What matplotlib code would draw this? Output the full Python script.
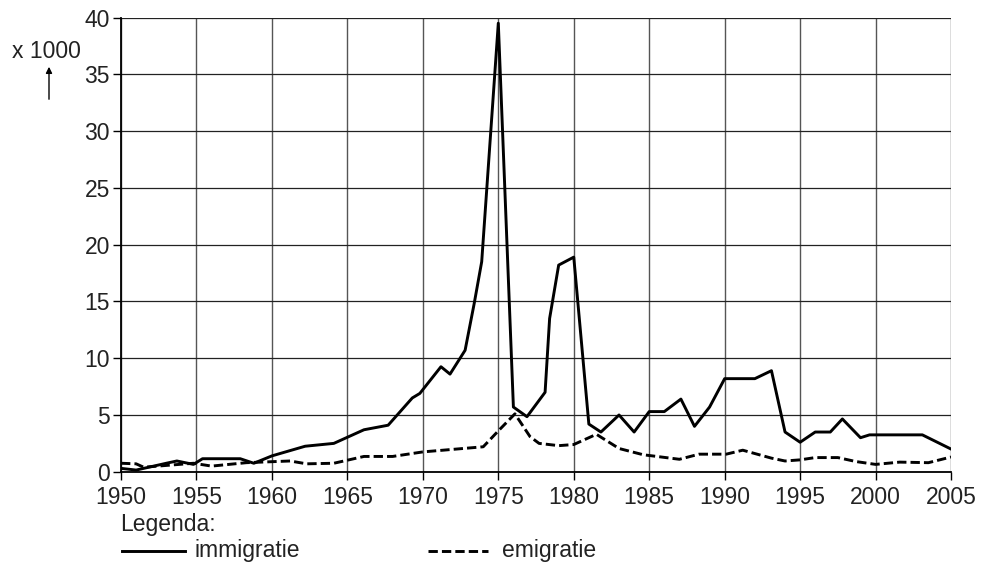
import matplotlib
matplotlib.use('Agg')

import matplotlib.pyplot as plt

# -----------------------------
# Data (x 1000 people)
# -----------------------------

imm_years = [1950, 1951, 1952, 1953, 1953.7, 1954.8, 1955.4, 1957.9, 1958.8,
             1960, 1962.2, 1964.1, 1966.1, 1967.7, 1969.3, 1969.8, 1971.2,
             1971.8, 1972.8, 1973.4, 1973.9, 1975, 1976, 1976.9, 1978.1,
             1978.4, 1979, 1980, 1981, 1981.8, 1983, 1984, 1985, 1986, 1987.1,
             1988, 1989, 1990, 1992, 1993.1, 1994, 1995, 1996, 1997, 1997.8,
             1999, 1999.6, 2003.1, 2005]
imm_values = [0.3, 0.15, 0.45, 0.75, 0.95, 0.65, 1.15, 1.15, 0.75,
              1.4, 2.25, 2.5, 3.7, 4.1, 6.5, 6.9, 9.25,
              8.6, 10.7, 14.8, 18.5, 39.5, 5.7, 4.85, 7.0,
              13.5, 18.2, 18.9, 4.2, 3.5, 5.0, 3.5, 5.3, 5.3, 6.4,
              4.0, 5.7, 8.2, 8.2, 8.9, 3.5, 2.6, 3.5, 3.5, 4.65,
              3.0, 3.25, 3.25, 2.0]

emi_years = [1950, 1951, 1951.5, 1954.8, 1956, 1958.3, 1961.2, 1962.3, 1964.1,
             1966.1, 1968, 1970, 1974, 1975, 1976.1, 1977.1, 1977.7, 1979,
             1980, 1981.5, 1983, 1984.6, 1987, 1988.3, 1990.1, 1991.2, 1993.1,
             1994, 1995, 1996, 1997.5, 1998.7, 2000, 2001.6, 2003.5, 2005]
emi_values = [0.75, 0.7, 0.4, 0.75, 0.5, 0.8, 0.95, 0.7, 0.75,
              1.35, 1.35, 1.75, 2.2, 3.6, 5.1, 3.1, 2.5, 2.3,
              2.4, 3.3, 2.05, 1.5, 1.1, 1.55, 1.55, 1.9, 1.2,
              0.95, 1.05, 1.25, 1.25, 0.9, 0.65, 0.85, 0.8, 1.3]

x_ticks = list(range(1950, 2006, 5))
y_ticks = list(range(0, 41, 5))

plt.rcParams['font.family'] = ['Liberation Sans', 'DejaVu Sans']
TXT = '#222222'
FS = 16.5
LW = 2.1
DASH = (3.2, 1.4)

fig = plt.figure(figsize=(9.84, 5.65), dpi=100)
ax = fig.add_axes([0.123, 0.165, 0.8435, 0.804])

# grid
for x in x_ticks:
    ax.axvline(x, color='#555555', lw=1.0, zorder=1)
for y in y_ticks:
    ax.axhline(y, color='#222222', lw=0.9, zorder=1)

ax.plot(imm_years, imm_values, color='black', lw=LW, zorder=3)
ax.plot(emi_years, emi_values, color='black', lw=LW,
        dashes=DASH, zorder=3)

ax.set_xlim(1950, 2005)
ax.set_ylim(0, 40)
ax.set_xticks(x_ticks)
ax.set_yticks(y_ticks)
ax.tick_params(direction='out', length=6, width=1.0, labelsize=FS,
               colors='black', labelcolor=TXT)
ax.tick_params(axis='x', pad=4)
ax.tick_params(axis='y', pad=2)

for side in ['top', 'right']:
    ax.spines[side].set_visible(False)
ax.spines['left'].set_linewidth(1.3)
ax.spines['bottom'].set_linewidth(1.3)

# y unit label with arrow
fig.text(46 / 984, 1 - 52 / 565, 'x 1000', fontsize=FS, color=TXT,
         ha='center', va='center')
ax.annotate('', xy=(49 / 984, 1 - 64 / 565), xytext=(49 / 984, 1 - 102 / 565),
            xycoords='figure fraction', textcoords='figure fraction',
            arrowprops=dict(arrowstyle='-|>', color='black', lw=1.0,
                            mutation_scale=9))

# -----------------------------
# Legend (drawn by hand)
# -----------------------------

fig.text(120 / 984, 1 - 524 / 565, 'Legenda:', fontsize=FS, color=TXT,
         ha='left', va='center')

leg_y = 1 - 551 / 565
fig.add_artist(plt.Line2D([122 / 984, 185 / 984], [leg_y, leg_y],
                          color='black', lw=LW))
fig.text(195 / 984, leg_y, 'immigratie', fontsize=FS, color=TXT,
         ha='left', va='center')

fig.add_artist(plt.Line2D([428 / 984, 488 / 984], [leg_y, leg_y],
                          color='black', lw=LW, dashes=DASH))
fig.text(502 / 984, leg_y, 'emigratie', fontsize=FS, color=TXT,
         ha='left', va='center')

fig.savefig('out.png', dpi=100)
plt.close(fig)
